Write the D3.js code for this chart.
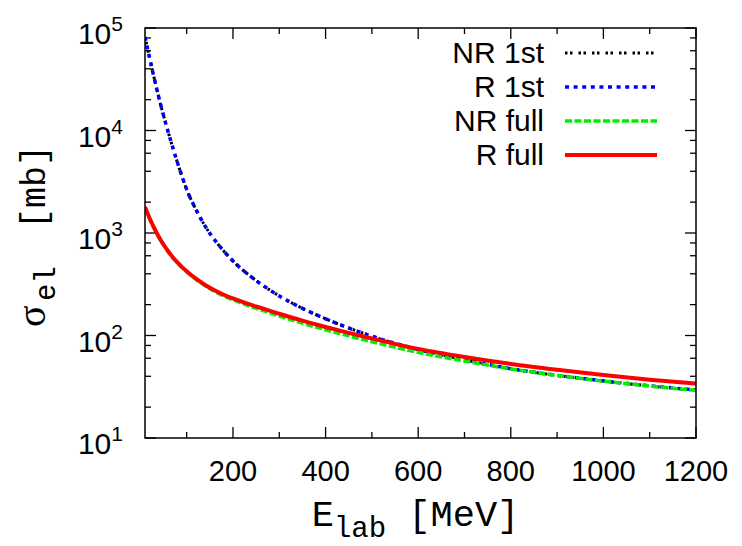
<!DOCTYPE html>
<html>
<head>
<meta charset="utf-8">
<script src="https://cdn.jsdelivr.net/npm/d3@7/dist/d3.min.js"></script>
<style>
body { margin: 0; background: #fff; }
text { font-family: "Liberation Sans", Arial, sans-serif; fill: #000; }
.mono { font-family: "Liberation Mono", "Courier New", monospace; }
</style>
</head>
<body>
<script>

var w = 742;
var h = 546;
var margin = { top: 28, right: 46, bottom: 108, left: 145 };
var pw = w - margin.left - margin.right;
var ph = h - margin.top - margin.bottom;

// lab energy grid [MeV]
var energy = [10, 20, 30, 40, 50, 60, 70, 80, 90, 100, 120, 140, 160, 180, 200, 250, 300, 350, 400, 450, 500, 600, 700, 800, 900, 1000, 1100, 1200];

// sigma_el [mb] for each curve
var nr1st  = [81700, 50850, 32170, 20890, 14010, 9690, 6826, 4873, 3558, 2657, 1696, 1163, 860, 667, 533, 344, 243, 184, 145.6, 118.4, 98.4, 73, 58, 47.3, 40.8, 36, 32.2, 29.3];
var r1st   = [81700, 50850, 32170, 20890, 14010, 9690, 6826, 4873, 3558, 2657, 1696, 1163, 860, 667, 533, 344, 243, 184, 145.6, 118.4, 98.4, 73, 58.1, 47.5, 40.9, 36.1, 32.3, 29.4];
var nrFull = [1778, 1379, 1104, 908, 765, 658, 575, 512, 461, 420, 353, 305, 270, 243, 223, 184, 155, 132, 113.6, 99.1, 87, 68.4, 56.4, 47.2, 40.8, 35.9, 32.1, 29.1];
var rFull  = [1794, 1391, 1114, 916, 772, 664, 581, 517, 465, 423.5, 358, 311, 276, 250, 230, 192, 163, 139.5, 121, 106, 93.5, 74, 61.7, 52.8, 46.3, 41.1, 37.1, 33.9];

var seriesNames = ["NR 1st", "R 1st", "NR full", "R full"];
var seriesColors = ["#000000", "#0000ff", "#00ee00", "#ff0000"];

var xMajor = [200, 400, 600, 800, 1000, 1200];
var xMinor = [100, 300, 500, 700, 900, 1100];
var yExponents = [1, 2, 3, 4, 5];
var yMinorFactors = [2, 4, 6, 8];

var svg = d3.select("body")
    .append("svg")
    .attr("width", w)
    .attr("height", h)
    .append("g")
    .attr("transform", "translate(" + margin.left + "," + margin.top + ")");

var xScale = d3.scaleLinear()
    .domain([10, 1200])
    .range([0, pw]);

var yScale = d3.scaleLog()
    .domain([10, 100000])
    .range([ph, 0]);

svg.append("defs").append("clipPath")
    .attr("id", "clip")
    .append("rect")
    .attr("width", pw)
    .attr("height", ph);

// ticks (gnuplot style, pointing inward on all four sides)
var ticks = svg.append("g").attr("stroke", "#000").attr("stroke-width", 1.3);

xMajor.concat(xMinor).forEach(function (v) {
    var len = xMajor.indexOf(v) >= 0 ? 11 : 6;
    ticks.append("line").attr("x1", xScale(v)).attr("x2", xScale(v)).attr("y1", ph).attr("y2", ph - len);
    ticks.append("line").attr("x1", xScale(v)).attr("x2", xScale(v)).attr("y1", 0).attr("y2", len);
});

yExponents.forEach(function (e) {
    var v = Math.pow(10, e);
    ticks.append("line").attr("x1", 0).attr("x2", 11).attr("y1", yScale(v)).attr("y2", yScale(v));
    ticks.append("line").attr("x1", pw).attr("x2", pw - 11).attr("y1", yScale(v)).attr("y2", yScale(v));
    if (e < 5) {
        yMinorFactors.forEach(function (f) {
            var m = f * Math.pow(10, e);
            ticks.append("line").attr("x1", 0).attr("x2", 6).attr("y1", yScale(m)).attr("y2", yScale(m));
            ticks.append("line").attr("x1", pw).attr("x2", pw - 6).attr("y1", yScale(m)).attr("y2", yScale(m));
        });
    }
});

// tick labels
svg.selectAll(".xlab")
    .data(xMajor)
    .enter()
    .append("text")
    .attr("class", "xlab")
    .attr("x", function (d) { return xScale(d); })
    .attr("y", ph + 43)
    .attr("text-anchor", "middle")
    .style("font-size", "29px")
    .text(function (d) { return d; });

var ylab = svg.selectAll(".ylab")
    .data(yExponents)
    .enter()
    .append("text")
    .attr("class", "ylab")
    .attr("x", -22)
    .attr("y", function (d) { return yScale(Math.pow(10, d)) + 16; })
    .attr("text-anchor", "end")
    .style("font-size", "30px");
ylab.append("tspan").text("10");
ylab.append("tspan")
    .attr("dy", -13)
    .style("font-size", "21px")
    .text(function (d) { return d; });

// curves
var line = d3.line()
    .x(function (d) { return xScale(d[0]); })
    .y(function (d) { return yScale(d[1]); })
    .curve(d3.curveMonotoneX);

var allSeries = [nr1st, r1st, nrFull, rFull];
var dashes = ["2.5,2.5,2.5,6", "4,4.6", "7,2.5", null];
var widths = [3, 3.5, 3.5, 4];

var curves = svg.append("g").attr("clip-path", "url(#clip)");
allSeries.forEach(function (vals, i) {
    curves.append("path")
        .datum(energy.map(function (e, j) { return [e, vals[j]]; }))
        .attr("d", line)
        .attr("fill", "none")
        .attr("stroke", seriesColors[i])
        .attr("stroke-width", widths[i])
        .attr("stroke-dasharray", dashes[i]);
});

// frame
svg.append("rect")
    .attr("width", pw)
    .attr("height", ph)
    .attr("fill", "none")
    .attr("stroke", "#000")
    .attr("stroke-width", 1.5);

// legend
var legend = svg.selectAll(".legend")
    .data(seriesNames)
    .enter()
    .append("g")
    .attr("class", "legend")
    .attr("transform", function (d, i) { return "translate(0," + (25 + i * 34) + ")"; });

legend.append("text")
    .attr("x", 399)
    .attr("y", 10)
    .attr("text-anchor", "end")
    .style("font-size", "30px")
    .text(function (d) { return d; });

legend.append("line")
    .attr("x1", 420)
    .attr("x2", 512)
    .attr("y1", 0)
    .attr("y2", 0)
    .attr("stroke", function (d, i) { return seriesColors[i]; })
    .attr("stroke-width", function (d, i) { return widths[i]; })
    .attr("stroke-dasharray", function (d, i) { return dashes[i]; });

// axis titles
var xt = svg.append("text")
    .attr("class", "mono")
    .attr("x", pw / 2 - 5)
    .attr("y", ph + 88)
    .attr("text-anchor", "middle")
    .style("font-size", "37px");
xt.append("tspan").text("E");
xt.append("tspan").attr("dy", 11).style("font-size", "29px").text("lab");
xt.append("tspan").attr("dy", -11).text("\u00a0[MeV]");

// y title, rotated; x positions below are minus the page y
var yt = svg.append("g")
    .attr("transform", "translate(" + (-100) + ",0) rotate(-90)");
yt.append("text")
    .attr("x", -327 + margin.top)
    .attr("y", 0)
    .style("font-family", "'Liberation Serif', serif")
    .style("font-size", "40px")
    .text("\u03c3");
yt.append("text")
    .attr("class", "mono")
    .attr("x", -301 + margin.top)
    .attr("y", 10)
    .style("font-size", "29px")
    .text("el");
yt.append("text")
    .attr("class", "mono")
    .attr("x", -229 + margin.top)
    .attr("y", 0)
    .style("font-size", "35px")
    .text("[mb]");

</script>
</body>
</html>
